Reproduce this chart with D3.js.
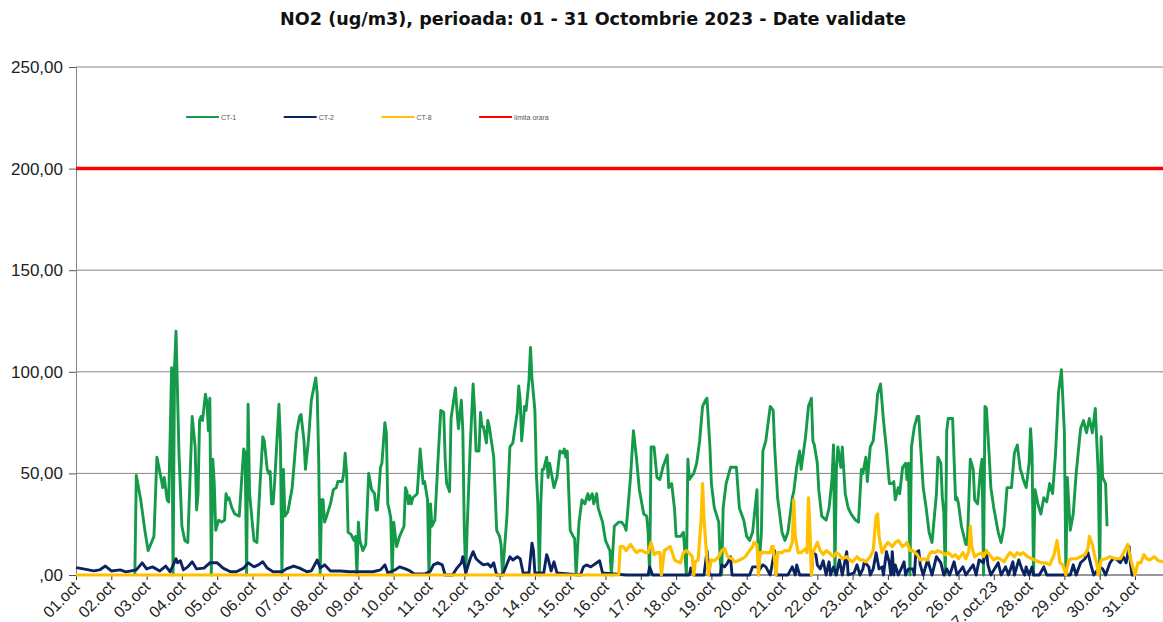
<!DOCTYPE html>
<html>
<head>
<meta charset="utf-8">
<script src="https://cdn.jsdelivr.net/npm/d3@7"></script>
<style>
    body { margin: 0; background: #fff; }
    svg { display: block; }
</style>
</head>
<body>
<svg id="chart" width="1163" height="622"></svg>
<script>
// hourly measurements, stored as [hour of month, value], hour 0 = 01.oct 00:00
var ct1 = [[40,0],[41,49],[44,37],[47,21],[49,12],[53,19],[55,58],[58,47],[59,43],[60,48],[62,37],[63,36],[64,68],[65,102],[66,0],[67,102],[68,120],[70,60],[72,24],[74,17],[76,16],[79,78],[81,63],[82,32],[83,40],[84,76],[85,78],[86,76],[88,89],[89,85],[90,71],[91,87],[92,0],[93,57],[94,45],[95,22],[97,27],[99,26],[101,27],[102,40],[103,37],[104,38],[106,33],[108,30],[111,29],[114,62],[115,60],[116,0],[117,84],[118,40],[121,17],[123,16],[125,43],[127,68],[128,66],[130,52],[131,50],[132,51],[133,35],[134,35],[135,45],[138,84],[139,65],[140,0],[141,52],[142,29],[144,31],[147,43],[150,70],[152,78],[153,79],[155,66],[156,52],[158,66],[160,86],[163,97],[164,89],[165,57],[166,0],[167,37],[168,37],[169,26],[170,28],[173,35],[175,42],[177,43],[178,46],[181,46],[182,50],[183,60],[184,50],[185,21],[187,20],[189,17],[190,19],[191,0],[192,26],[193,17],[195,12],[197,15],[199,50],[201,42],[203,40],[204,32],[205,32],[207,53],[208,55],[210,75],[211,70],[212,35],[213,32],[214,28],[215,0],[216,26],[218,14],[220,19],[223,24],[224,43],[225,41],[226,35],[227,39],[228,35],[229,38],[232,40],[234,62],[236,45],[237,46],[239,37],[240,0],[241,35],[242,24],[244,27],[246,55],[248,81],[250,80],[251,57],[252,45],[254,41],[255,77],[258,92],[259,81],[260,72],[262,86],[263,71],[264,22],[265,0],[266,24],[268,63],[270,94],[271,81],[272,61],[274,61],[275,80],[276,73],[277,73],[279,65],[280,76],[281,73],[284,58],[286,22],[288,19],[289,15],[290,0],[293,29],[295,63],[297,65],[300,80],[301,93],[302,86],[303,66],[305,83],[306,81],[308,96],[309,112],[310,97],[312,81],[313,50],[314,35],[315,0],[316,35],[317,52],[318,52],[320,58],[321,48],[322,55],[324,47],[325,43],[327,48],[329,61],[331,60],[332,62],[333,58],[334,61],[336,22],[338,19],[339,18],[340,0],[342,26],[344,37],[346,35],[348,40],[349,37],[351,40],[352,35],[354,40],[355,33],[358,26],[360,17],[363,12],[364,0],[366,24],[369,26],[371,26],[373,24],[374,22],[377,48],[379,71],[381,58],[383,42],[386,30],[388,29],[389,21],[390,0],[391,63],[393,63],[395,48],[397,47],[399,53],[402,59],[403,43],[405,45],[407,32],[408,19],[411,19],[413,21],[415,0],[416,57],[417,47],[420,50],[422,55],[424,66],[426,83],[428,86],[429,87],[431,63],[432,45],[434,33],[437,26],[438,7],[439,0],[440,33],[442,45],[445,53],[447,53],[449,53],[451,33],[454,27],[456,19],[458,17],[460,21],[463,42],[464,0],[466,21],[467,61],[469,66],[472,83],[474,81],[475,63],[477,38],[480,21],[482,17],[484,21],[487,38],[488,41],[490,53],[492,61],[493,52],[496,68],[498,83],[500,87],[501,66],[502,64],[504,55],[505,42],[507,29],[510,27],[512,33],[514,47],[515,64],[516,0],[517,53],[518,63],[520,53],[521,63],[523,40],[525,33],[527,30],[530,27],[532,26],[534,52],[535,50],[537,58],[538,46],[540,63],[542,66],[544,80],[545,89],[547,94],[549,76],[551,62],[553,45],[555,45],[556,46],[557,37],[559,43],[560,40],[562,53],[564,55],[565,47],[566,55],[567,0],[568,63],[570,73],[572,78],[573,78],[574,66],[576,43],[578,33],[580,21],[582,16],[585,40],[586,58],[588,55],[589,38],[590,31],[591,0],[592,71],[593,77],[596,77],[597,57],[598,37],[599,38],[600,35],[602,24],[605,15],[606,15],[608,57],[610,52],[611,37],[613,35],[615,52],[616,57],[617,0],[618,83],[619,82],[621,57],[622,43],[624,33],[627,21],[629,16],[631,24],[633,43],[636,43],[638,60],[640,64],[642,52],[643,50],[644,47],[646,43],[648,55],[649,72],[650,60],[651,0],[652,42],[654,35],[656,30],[658,38],[660,36],[662,45],[664,40],[666,60],[668,90],[670,101],[672,70],[673,0],[674,48],[676,22],[678,30],[680,50],[683,72],[685,76],[687,70],[689,77],[691,70],[693,82],[695,50],[696,0],[697,68],[698,48],[700,45],[701,24]];

var ct2 = [[0,3.6],[5,3],[12,2],[16,2.5],[20,4.4],[24,2],[30,2.5],[34,1.5],[41,2.5],[45,6],[48,3],[52,4],[57,2],[61,4.4],[64,1.6],[68,8],[69,6],[71,7],[73,2.5],[76,4],[79,6.5],[82,3],[87,3.4],[91,6],[96,6],[100,3.4],[105,1.6],[109,1.6],[114,3.4],[117,6],[121,4],[124,5],[127,6.5],[130,3.4],[134,1.6],[140,1.6],[143,3],[148,4.4],[152,3.4],[157,1.6],[160,2],[164,7.4],[166,3.4],[169,5],[173,2],[180,2],[186,1.6],[193,1.6],[202,1.6],[207,2.5],[210,5],[212,1],[217,2.5],[220,4],[224,3],[227,2],[230,0.5],[234,0.5],[237,0.5],[241,2],[243,5],[246,6],[249,5],[251,0],[256,0],[259,3.4],[262,6],[263,9],[265,1],[268,8],[270,11.5],[272,8],[275,6],[277,5],[280,5.5],[282,4],[284,6],[286,0],[290,0],[295,9],[297,7.4],[300,9],[302,8],[304,1],[308,1],[310,15.7],[311,12],[312,1],[318,1],[320,10],[321,8],[323,2],[325,6.5],[327,1],[343,0],[345,4],[347,5],[350,4],[352,5],[354,6],[356,7],[358,1],[374,0],[389,0],[390,4],[392,0],[417,0],[418,3.4],[420,0],[427,0],[429,12],[430,5],[431,0],[438,0],[439,5],[441,4],[442,5],[443,6],[445,9],[446,0],[458,0],[460,4],[463,4],[465,3],[467,5],[469,4],[472,0],[475,12],[476,0],[484,0],[487,4],[489,0],[490,5],[492,0],[500,0],[501,11],[503,10],[504,5],[506,3],[508,7],[510,0],[512,6.5],[513,0],[515,4],[517,0],[519,7.4],[521,0],[524,11.5],[525,0],[529,1],[531,5],[533,0],[535,3],[536,6.5],[539,4],[540,0],[542,3],[544,11],[546,3],[548,4],[549,0],[551,11.5],[553,6],[554,0],[555,11.5],[556,0],[557,5],[559,0],[561,3],[563,6.5],[564,0],[566,3],[569,3],[570,0],[571,11],[573,12],[574,5],[576,0],[579,7.4],[582,0],[585,9],[588,6],[590,0],[592,3],[594,0],[597,6.5],[599,0],[603,4],[605,0],[608,3],[610,5],[612,0],[614,7.4],[617,6],[618,11],[619,12],[620,5],[622,0],[627,6],[629,0],[632,4],[634,0],[637,6.5],[638,0],[641,7.4],[643,3],[645,0],[646,4],[648,0],[650,4],[651,0],[655,0],[658,4],[660,0],[676,0],[678,5],[680,0],[683,6],[686,8],[688,11],[690,5],[692,0],[696,4],[698,3],[700,0],[703,6],[705,8],[707,8],[710,6],[712,9],[714,6],[716,14],[717,5],[718,0],[719,0]];

var ct8 = [[0,0],[369,0],[370,14],[372,14],[374,12],[377,15],[379,13],[381,11],[383,12],[385,12],[387,11],[389,11],[391,16],[393,10],[395,11],[397,11],[398,0],[400,12],[402,13],[404,14],[407,7.4],[409,6.5],[411,6],[413,11],[415,12],[418,10],[419,9],[420,0],[421,6.5],[423,7.4],[425,27],[426,45],[427,27],[429,7.4],[430,0],[432,7.4],[434,7],[437,9],[439,12],[441,13],[443,9],[446,8],[448,6.5],[450,7],[453,8],[455,9],[457,11],[460,14],[461,16],[463,15],[464,0],[465,11],[469,11],[472,11],[473,14],[474,14],[476,0],[477,11],[480,11],[482,12],[485,12],[487,16],[488,37],[489,19],[491,11],[493,11],[496,13],[497,11],[498,38],[499,22],[500,0],[501,11],[504,16],[506,12],[508,10],[510,12],[512,11],[515,9],[517,11],[519,10],[521,8],[524,9],[526,7.4],[528,6.5],[531,9],[533,7.4],[535,7.4],[537,6.5],[540,9],[542,12],[544,29],[545,30],[546,19],[548,11],[550,14],[552,16],[555,14],[557,16],[559,17],[562,14],[564,15],[565,16],[567,12],[569,12],[572,10],[574,7.4],[576,8],[579,7.4],[580,10],[582,11.5],[584,11],[586,12],[589,11],[591,10],[593,11],[596,9],[598,10],[600,8],[603,11],[605,8],[607,11.5],[608,24],[609,14],[611,9],[613,10],[616,11],[617,9],[619,12],[621,10],[624,7.4],[626,8.5],[628,8],[631,6.5],[633,9],[635,11],[638,9],[640,11],[642,10],[644,11],[647,9],[650,8],[653,7],[656,6],[659,6],[662,5],[665,10],[667,17],[669,6],[671,5],[673,0],[675,7.4],[677,8],[680,8],[683,9],[686,10],[688,13],[689,19],[691,15],[693,8],[694,6],[695,0],[697,7.4],[700,8],[703,9],[707,8],[710,8],[713,12],[715,15],[717,8],[720,0],[722,6],[724,6],[726,10],[728,8],[730,7.4],[733,9],[736,7],[740,6.5],[743,6]];

var limita = [[0,200],[744,200]];

var dayLabels = ["01.oct","02.oct","03.oct","04.oct","05.oct","06.oct","07.oct","08.oct","09.oct","10.oct","11.oct","12.oct","13.oct","14.oct","15.oct","16.oct","17.oct","18.oct","19.oct","20.oct","21.oct","22.oct","23.oct","24.oct","25.oct","26.oct","27.oct.23","28.oct","29.oct","30.oct","31.oct"];
var yTicks = [0, 50, 100, 150, 200, 250];
var seriesNames = ["CT-1", "CT-2", "CT-8", "limita orara"];
var seriesColors = ["#149a48", "#0a2462", "#ffc000", "#ff0000"];
var seriesWidths = [2.9, 2.9, 3.2, 3.5];

function drawChart() {
    var svg = d3.select("#chart");
    var left = 76, plotBottom = 575, plotTop = 67;
    var dayWidth = 35.3;

    var x = d3.scaleLinear().domain([0, 744]).range([left, left + 31 * dayWidth]);
    var y = d3.scaleLinear().domain([0, 250]).range([plotBottom, plotTop]);

    // title
    svg.append("text")
        .attr("x", 593).attr("y", 25)
        .attr("text-anchor", "middle")
        .style("font-family", "'DejaVu Sans', Verdana, sans-serif")
        .style("font-weight", "bold")
        .style("font-size", "17.6px")
        .style("fill", "#111")
        .text("NO2 (ug/m3), perioada: 01 - 31 Octombrie 2023 - Date validate");

    // horizontal grid
    svg.append("g").selectAll("line")
        .data(yTicks.filter(function (d) { return d > 0; }))
        .enter().append("line")
        .attr("x1", left).attr("x2", 1163)
        .attr("y1", function (d) { return y(d); })
        .attr("y2", function (d) { return y(d); })
        .attr("stroke", "#868686").attr("stroke-width", 1);

    // y axis
    var yAxis = d3.axisLeft(y).tickValues(yTicks).tickSize(7).tickPadding(6)
        .tickFormat(function (d) { return d === 0 ? ",00" : d3.format(".2f")(d).replace(".", ","); });
    var gy = svg.append("g").attr("transform", "translate(" + left + ",0)").call(yAxis);
    gy.select(".domain").attr("stroke", "#868686");
    gy.selectAll(".tick line").attr("stroke", "#555");
    gy.selectAll("text")
        .style("font-family", "'Liberation Sans', Arial, sans-serif")
        .style("font-size", "17px").style("fill", "#222");

    // x axis, one tick per day
    var xAxis = d3.axisBottom(x)
        .tickValues(d3.range(0, 31).map(function (d) { return d * 24; }))
        .tickSize(5).tickPadding(4)
        .tickFormat(function (d) { return dayLabels[d / 24]; });
    var gx = svg.append("g").attr("transform", "translate(0," + plotBottom + ")").call(xAxis);
    gx.select(".domain").attr("stroke", "#333").attr("d", "M" + left + ",0H1163");
    gx.selectAll(".tick line").attr("stroke", "#333");
    gx.selectAll("text")
        .style("font-family", "'Liberation Sans', Arial, sans-serif")
        .style("font-size", "16px").style("fill", "#222")
        .attr("text-anchor", "end")
        .attr("x", 0).attr("y", 0).attr("dy", "0.35em")
        .attr("transform", "translate(0,9) rotate(-45)");

    // data lines
    var line = d3.line()
        .x(function (d) { return x(d[0]); })
        .y(function (d) { return y(d[1]); });

    var plot = svg.append("g");
    [ct1, ct2, ct8, limita].forEach(function (data, i) {
        plot.append("path")
            .datum(data)
            .attr("d", line)
            .attr("fill", "none")
            .attr("stroke", seriesColors[i])
            .attr("stroke-width", seriesWidths[i])
            .attr("stroke-linejoin", "round");
    });

    // legend
    var legend = svg.append("g").attr("transform", "translate(186,117)");
    seriesNames.forEach(function (name, i) {
        var g = legend.append("g").attr("transform", "translate(" + (i * 97.7) + ",0)");
        g.append("line").attr("x1", 0).attr("x2", 33).attr("y1", 0).attr("y2", 0)
            .attr("stroke", seriesColors[i]).attr("stroke-width", 2.2);
        g.append("text").attr("x", 35).attr("y", 2.5)
            .style("font-family", "'Liberation Sans', Arial, sans-serif")
            .style("font-size", "7px").style("fill", "#555")
            .text(name);
    });
}

drawChart();
</script>
</body>
</html>
